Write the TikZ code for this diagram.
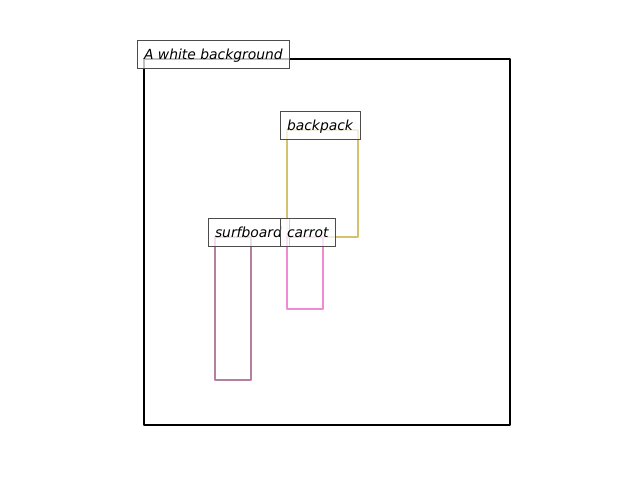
\documentclass[tikz,border=0pt]{standalone}
\usepackage{tkz-euclide}
\usepackage{fontspec}
\setsansfont{DejaVu Sans}
\definecolor{bagcol}{RGB}{212,195,110}
\definecolor{boardcol}{RGB}{180,128,160}
\definecolor{carrotcol}{RGB}{240,138,210}
\tikzset{
  tag/.style={anchor=base west, xshift=-0.14cm, draw=black!70, line width=0.5pt,
    fill=white, fill opacity=0.75, text opacity=1, outer sep=0pt,
    inner xsep=0.14cm, inner ysep=0.12cm, text height=0.26cm, text depth=0.06cm,
    font=\sffamily\itshape\fontsize{7.9}{9}\selectfont},
  box/.style={line width=1.45pt}
}
\begin{document}
\begin{tikzpicture}
\useasboundingbox (0,0) rectangle (12.8,9.6);
% background frame
\tkzDefPoints{2.88/1.10/P1, 10.2/1.10/P2, 10.2/8.42/P3, 2.88/8.42/P4}
\tkzDrawPolygon[box, color=black](P1,P2,P3,P4)
\node[tag] (bg) at (P4) {A white background};
% backpack
\tkzDefPoints{5.74/4.86/B1, 7.16/4.86/B2, 7.16/7.00/B3, 5.74/7.00/B4}
\tkzDrawPolygon[box, color=bagcol](B1,B2,B3,B4)
\node[tag] (bag) at (B4) {backpack};
% surfboard
\tkzDefPoints{4.30/2.00/S1, 5.02/2.00/S2, 5.02/4.86/S3, 4.30/4.86/S4}
\tkzDrawPolygon[box, color=boardcol](S1,S2,S3,S4)
\node[tag] (board) at (S4) {surfboard};
% carrot
\tkzDefPoints{5.74/3.42/C1, 6.46/3.42/C2, 6.46/4.86/C3, 5.74/4.86/C4}
\tkzDrawPolygon[box, color=carrotcol](C1,C2,C3,C4)
\node[tag] (carrot) at (C4) {carrot};
\end{tikzpicture}
\end{document}
